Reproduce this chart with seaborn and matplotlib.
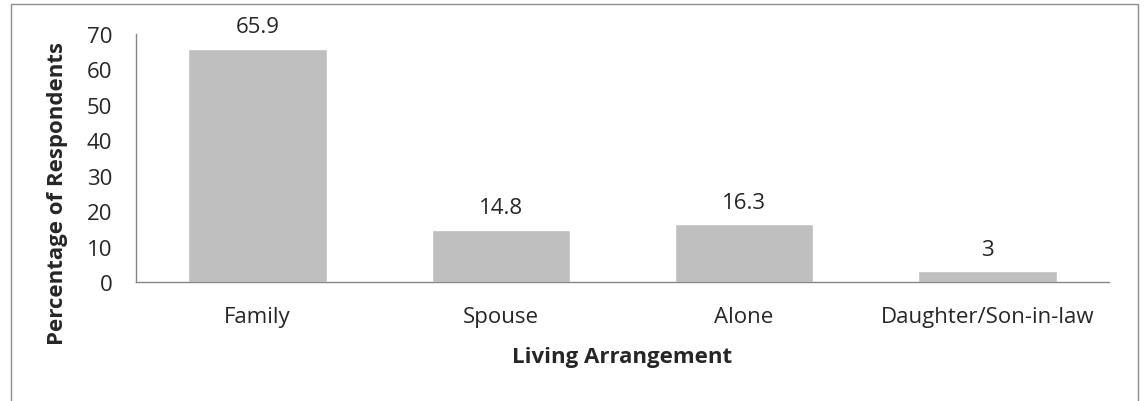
import numpy as np
import pandas as pd
import seaborn as sns
import matplotlib.pyplot as plt
from matplotlib.patches import Rectangle

sns.set_style("white")
plt.rcParams["font.family"] = ["Open Sans", "DejaVu Sans"]

categories = ["Family", "Spouse", "Alone", "Daughter/Son-in-law"]
percentages = [65.9, 14.8, 16.3, 3]
value_labels = ["65.9", "14.8", "16.3", "3"]

df = pd.DataFrame({"arrangement": categories, "percent": percentages})

fig = plt.figure(figsize=(11.46, 4.02), dpi=100)
ax = fig.add_axes([136 / 1146, 1 - 283 / 402, (1109 - 136) / 1146, (283 - 35) / 402])

sns.barplot(data=df, x="arrangement", y="percent", color="#BFBFBF",
            saturation=1, width=0.57, ax=ax)

for patch, lab in zip(ax.patches, value_labels):
    ax.text(patch.get_x() + patch.get_width() / 2, patch.get_height() + 3.2, lab,
            ha="center", va="bottom", fontsize=16)

ax.set_ylim(0, 70)
ax.set_xlim(-0.5, 3.5)
ax.set_yticks(range(0, 71, 10))
ax.tick_params(axis="both", length=0, labelsize=16)
ax.tick_params(axis="x", pad=17)
ax.tick_params(axis="y", pad=17)
ax.set_xlabel("Living Arrangement", fontsize=16, fontweight="bold", labelpad=14)
ax.set_ylabel("Percentage of Respondents", fontsize=16, fontweight="bold")
ax.yaxis.set_label_coords(-0.07, 0.36)

for s in ["top", "right"]:
    ax.spines[s].set_visible(False)
for s in ["left", "bottom"]:
    ax.spines[s].set_color("#868686")
    ax.spines[s].set_linewidth(1)

fig.patches.append(Rectangle((11 / 1146, -0.05), (1138 - 11) / 1146, 1.05 - 5 / 402,
                             transform=fig.transFigure, fill=False,
                             edgecolor="#8C8C8C", linewidth=1))

fig.savefig("out.png", dpi=100)
